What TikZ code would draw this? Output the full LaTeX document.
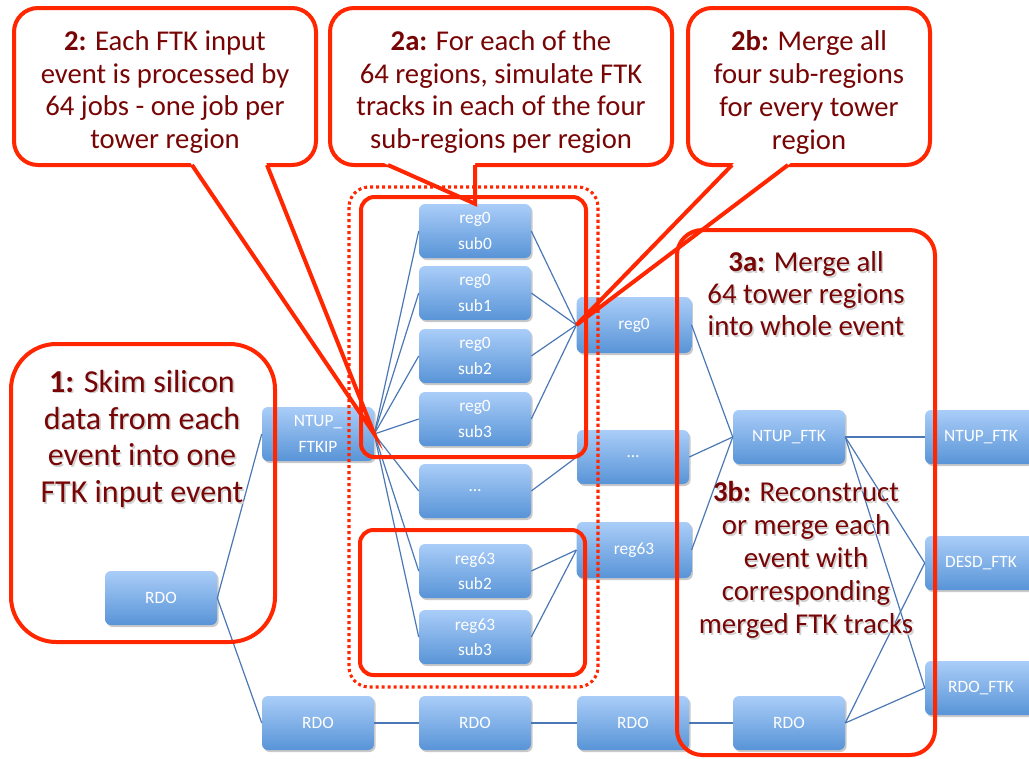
\documentclass[tikz,border=0pt]{standalone}
\usepackage{fontspec}
\setmainfont{Carlito}
\usetikzlibrary{shadows}
\definecolor{cred}{RGB}{255,38,0}
\definecolor{ctext}{RGB}{120,5,5}
\definecolor{btop}{RGB}{170,205,248}
\definecolor{bbot}{RGB}{88,148,215}
\definecolor{edgec}{RGB}{75,120,180}
\begin{document}
\begin{tikzpicture}[x=0.75pt,y=-0.75pt,
  job/.style={rectangle, rounded corners=4.5pt, minimum width=84pt, minimum height=40.5pt,
    top color=btop, bottom color=bbot, draw=none, text=white,
    font=\fontsize{13}{19}\selectfont, align=center, inner sep=0pt,
    drop shadow={shadow xshift=1.2pt, shadow yshift=-1.5pt, opacity=0.3, fill=black!70}},
  widejob/.style={job, minimum width=86pt, minimum height=42pt},
  link/.style={draw=edgec, line width=0.9pt},
  callout/.style={draw=cred, line width=3pt, fill=white, rounded corners=18pt, inner sep=0pt},
  calltext/.style={text=ctext, align=center, font=\fontsize{21.5}{24.7}\selectfont},
  tailfill/.style={fill=white},
  tailline/.style={draw=cred, line width=3pt, line join=miter},
  frame/.style={draw=cred, line width=3pt},
  dotframe/.style={draw=cred, line width=2.3pt, dash pattern=on 2.3pt off 2.2pt, rounded corners=15pt},
  bigtext/.style={text=ctext, align=center},
]
\useasboundingbox (0,0) rectangle (1029,758);
\clip (0,0) rectangle (1029,758);

% callout bodies (top row)
\node[callout, minimum width=226.5pt, minimum height=117.75pt] (c2) at (165,86.5) {};
\node[callout, minimum width=256.5pt, minimum height=117.75pt] (c2a) at (501,86.5) {};
\node[callout, minimum width=181.5pt, minimum height=117.75pt] (c2b) at (809,86.5) {};
\node[calltext] (c2t) at (165,92)
  {\textbf{2:} Each FTK input\\event is processed by\\64 jobs - one job per\\tower region};
\node[calltext] (c2at) at (501,92)
  {\textbf{2a:} For each of the\\64 regions, simulate FTK\\tracks in each of the four\\sub-regions per region};
\node[calltext] (c2bt) at (809,92)
  {\textbf{2b:} Merge all\\four sub-regions\\for every tower\\region};

% job nodes
\node[job] (rdoL) at (161,598) {RDO};
\node[job] (ftkip) at (318,434) {NTUP\_\\FTKIP};
\node[job] (s00) at (475,231) {reg0\\sub0};
\node[job] (s01) at (475,293) {reg0\\sub1};
\node[job] (s02) at (475,356) {reg0\\sub2};
\node[job] (s03) at (475,419) {reg0\\sub3};
\node[job] (sdots) at (475,491) {\dots};
\node[job] (s632) at (475,571) {reg63\\sub2};
\node[job] (s633) at (475,637) {reg63\\sub3};
\node[widejob] (r0) at (634,325) {reg0};
\node[job] (rdots) at (633,457) {\dots};
\node[widejob] (r63) at (634,550) {reg63};
\node[job] (rdo1) at (318,723) {RDO};
\node[job] (rdo2) at (475,723) {RDO};
\node[job] (rdo3) at (633,723) {RDO};
\node[job] (rdo4) at (789,723) {RDO};
\node[job] (ntup) at (789,437) {NTUP\_FTK};
\node[job] (ntupR) at (981,437) {NTUP\_FTK};
\node[job] (desd) at (981,563) {DESD\_FTK};
\node[job] (rdoftk) at (981,688) {RDO\_FTK};

% tail fills (under connectors)
\fill[tailfill] (188.6,160) -- (ftkip.east) -- (264.8,159.4) -- cycle;
\fill[tailfill] (379,160.8) -- (s00.north) -- (475,158) -- cycle;
\fill[tailfill] (736.9,160) -- (r0.west) -- (794.4,160.2) -- cycle;

% connectors
\draw[link] (rdoL.east) -- (ftkip.west);
\draw[link] (rdoL.east) -- (rdo1.west);
\foreach \t in {s00,s01,s02,s03,sdots,s632,s633}
  \draw[link] (ftkip.east) -- (\t.west);
\foreach \t in {s00,s01,s02,s03}
  \draw[link] (\t.east) -- (r0.west);
\draw[link] (sdots.east) -- (rdots.west);
\draw[link] (s632.east) -- (r63.west);
\draw[link] (s633.east) -- (r63.west);
\foreach \t in {r0,rdots,r63}
  \draw[link] (\t.east) -- (ntup.west);
\draw[link] (rdo1.east) -- (rdo2.west);
\draw[link] (rdo2.east) -- (rdo3.west);
\draw[link] (rdo3.east) -- (rdo4.west);
\draw[link] (ntup.east) -- (ntupR.west);
\draw[link] (ntup.east) -- (desd.west);
\draw[link] (ntup.east) -- (rdoftk.west);
\draw[link] (rdo4.east) -- (desd.west);
\draw[link] (rdo4.east) -- (rdoftk.west);

% frames
\draw[dotframe] (349,187) rectangle (598,687);
\draw[frame, rounded corners=10pt] (361,197) rectangle (586,457);
\draw[frame, rounded corners=10pt] (360,530) rectangle (585,675);
\draw[frame, rounded corners=34pt] (11,344) rectangle (275,642);
\draw[frame, rounded corners=19pt] (677,230) rectangle (935,755);

% tail lines
\coordinate (t2a) at (192,165);
\coordinate (t2b) at (267,165);
\draw[tailline] (t2a) -- (ftkip.east) -- (t2b);
\coordinate (t2aa) at (388,165);
\coordinate (t2ab) at (475,165);
\draw[tailline] (t2aa) -- (s00.north) -- (t2ab);
\coordinate (t2ba) at (732,165);
\coordinate (t2bb) at (788,165);
\draw[tailline] (t2ba) -- (r0.west) -- (t2bb);

% big texts with soft shadow
\foreach \dx/\dy/\col in {1.6/1.6/black!18, 0/0/ctext} {
  \node[bigtext, text=\col, font=\fontsize{24}{27.6}\selectfont] (c1t\dx) at (142+\dx,439+\dy)
    {\textbf{1:} Skim silicon\\data from each\\event into one\\FTK input event};
  \node[bigtext, text=\col, font=\fontsize{21.6}{24}\selectfont] (c3at\dx) at (806+\dx,294+\dy)
    {\textbf{3a:} Merge all\\64 tower regions\\into whole event};
  \node[bigtext, text=\col, font=\fontsize{21.6}{24.8}\selectfont] (c3bt\dx) at (806+\dx,560+\dy)
    {\textbf{3b:} Reconstruct\\or merge each\\event with\\corresponding\\merged FTK tracks};
}
\end{tikzpicture}
\end{document}
